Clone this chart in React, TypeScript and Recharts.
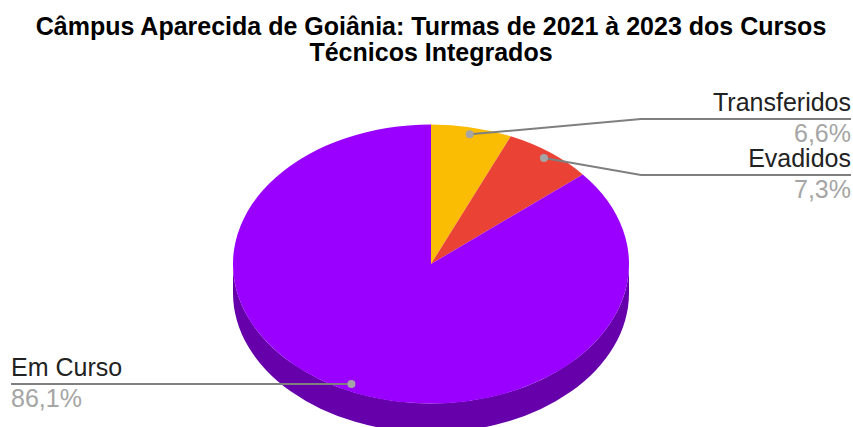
import { PieChart, Pie } from 'recharts';

const sliceNames = ['Transferidos', 'Evadidos', 'Em Curso'];
const sliceValues = [6.6, 7.3, 86.1];
const sliceColors = ['#fbbc04', '#ea4335', '#9900ff'];
const wallColors = ['#a87e03', '#9d2d24', '#6600aa'];

const titleLines = [
  'Câmpus Aparecida de Goiânia: Turmas de 2021 à 2023 dos Cursos',
  'Técnicos Integrados',
];

const WIDTH = 853;
const HEIGHT = 427;
const CX = 431;
const CY = 264;
const RADIUS = 198;
const SQUASH = 139.5 / 198;
const DEPTH = 29;
const FONT = '"Liberation Sans", Arial, sans-serif';

// where each callout's leader line runs once it leaves the slice
const calloutX = [851, 851, 11];
const calloutY = [119, 175, 384];
const elbowX = [641, 641, 351];

const chartData = sliceNames.map((name, i) => ({
  name,
  value: sliceValues[i],
  fill: sliceColors[i],
  wall: wallColors[i],
}));

const rad = (deg: number) => (deg * Math.PI) / 180;
const ex = (cx: number, r: number, deg: number) => cx + r * Math.cos(rad(deg));
const ey = (cy: number, r: number, deg: number) => cy - r * SQUASH * Math.sin(rad(deg));

// top face: a pie sector flattened into an ellipse
function TopSector(props: any) {
  const { cx, cy, outerRadius: r, startAngle, endAngle, fill } = props;
  const ry = r * SQUASH;
  const large = Math.abs(startAngle - endAngle) > 180 ? 1 : 0;
  const d = [
    `M ${cx} ${cy}`,
    `L ${ex(cx, r, startAngle)} ${ey(cy, r, startAngle)}`,
    `A ${r} ${ry} 0 ${large} 1 ${ex(cx, r, endAngle)} ${ey(cy, r, endAngle)}`,
    'Z',
  ].join(' ');
  return <path d={d} fill={fill} stroke="none" />;
}

// side wall: only the part of a slice on the near half (0 to -180 deg) shows
function WallSector(props: any) {
  const { cx, cy, outerRadius: r, startAngle, endAngle, payload } = props;
  const begin = Math.min(startAngle, 0);
  const stop = Math.max(endAngle, -180);
  if (stop >= begin) return null;
  const ry = r * SQUASH;
  const d = [
    `M ${ex(cx, r, begin)} ${ey(cy, r, begin)}`,
    `A ${r} ${ry} 0 0 1 ${ex(cx, r, stop)} ${ey(cy, r, stop)}`,
    `L ${ex(cx, r, stop)} ${ey(cy, r, stop) + DEPTH}`,
    `A ${r} ${ry} 0 0 0 ${ex(cx, r, begin)} ${ey(cy, r, begin) + DEPTH}`,
    'Z',
  ].join(' ');
  return <path d={d} fill={payload.wall} stroke="none" />;
}

function Callout(props: any) {
  const { cx, cy, outerRadius: r, midAngle, index, name, value } = props;
  const dotX = ex(cx, r * 0.95, midAngle);
  const dotY = ey(cy, r * 0.95, midAngle);
  const endX = calloutX[index];
  const lineY = calloutY[index];
  const anchor = endX > cx ? 'end' : 'start';
  return (
    <g>
      <polyline
        points={`${dotX},${dotY} ${elbowX[index]},${lineY} ${endX},${lineY}`}
        fill="none"
        stroke="#7f7f7f"
        strokeWidth={2}
      />
      <circle cx={dotX} cy={dotY} r={4} fill="#a5a5a5" />
      <text x={endX} y={lineY - 8} textAnchor={anchor} fontFamily={FONT} fontSize={25} fill="#222222">
        {name}
      </text>
      <text x={endX} y={lineY + 23} textAnchor={anchor} fontFamily={FONT} fontSize={25} fill="#a5a5a5">
        {`${value.toFixed(1).replace('.', ',')}%`}
      </text>
    </g>
  );
}

export default function App() {
  return (
    <div style={{ position: 'absolute', left: 0, top: 0, width: WIDTH, height: HEIGHT, background: '#fff' }}>
      <PieChart width={WIDTH} height={HEIGHT} margin={{ top: 0, right: 0, bottom: 0, left: 0 }}>
        <text x={CX} y={35} textAnchor="middle" fontFamily={FONT} fontWeight="bold" fontSize={25} fill="#000">
          {titleLines[0]}
        </text>
        <text x={CX} y={61} textAnchor="middle" fontFamily={FONT} fontWeight="bold" fontSize={25} fill="#000">
          {titleLines[1]}
        </text>
        <Pie
          data={chartData}
          dataKey="value"
          nameKey="name"
          cx={CX}
          cy={CY}
          outerRadius={RADIUS}
          startAngle={90}
          endAngle={-270}
          shape={WallSector}
          isAnimationActive={false}
          labelLine={false}
          label={false}
        />
        <Pie
          data={chartData}
          dataKey="value"
          nameKey="name"
          cx={CX}
          cy={CY}
          outerRadius={RADIUS}
          startAngle={90}
          endAngle={-270}
          shape={TopSector}
          isAnimationActive={false}
          labelLine={false}
          label={Callout}
        />
      </PieChart>
    </div>
  );
}
